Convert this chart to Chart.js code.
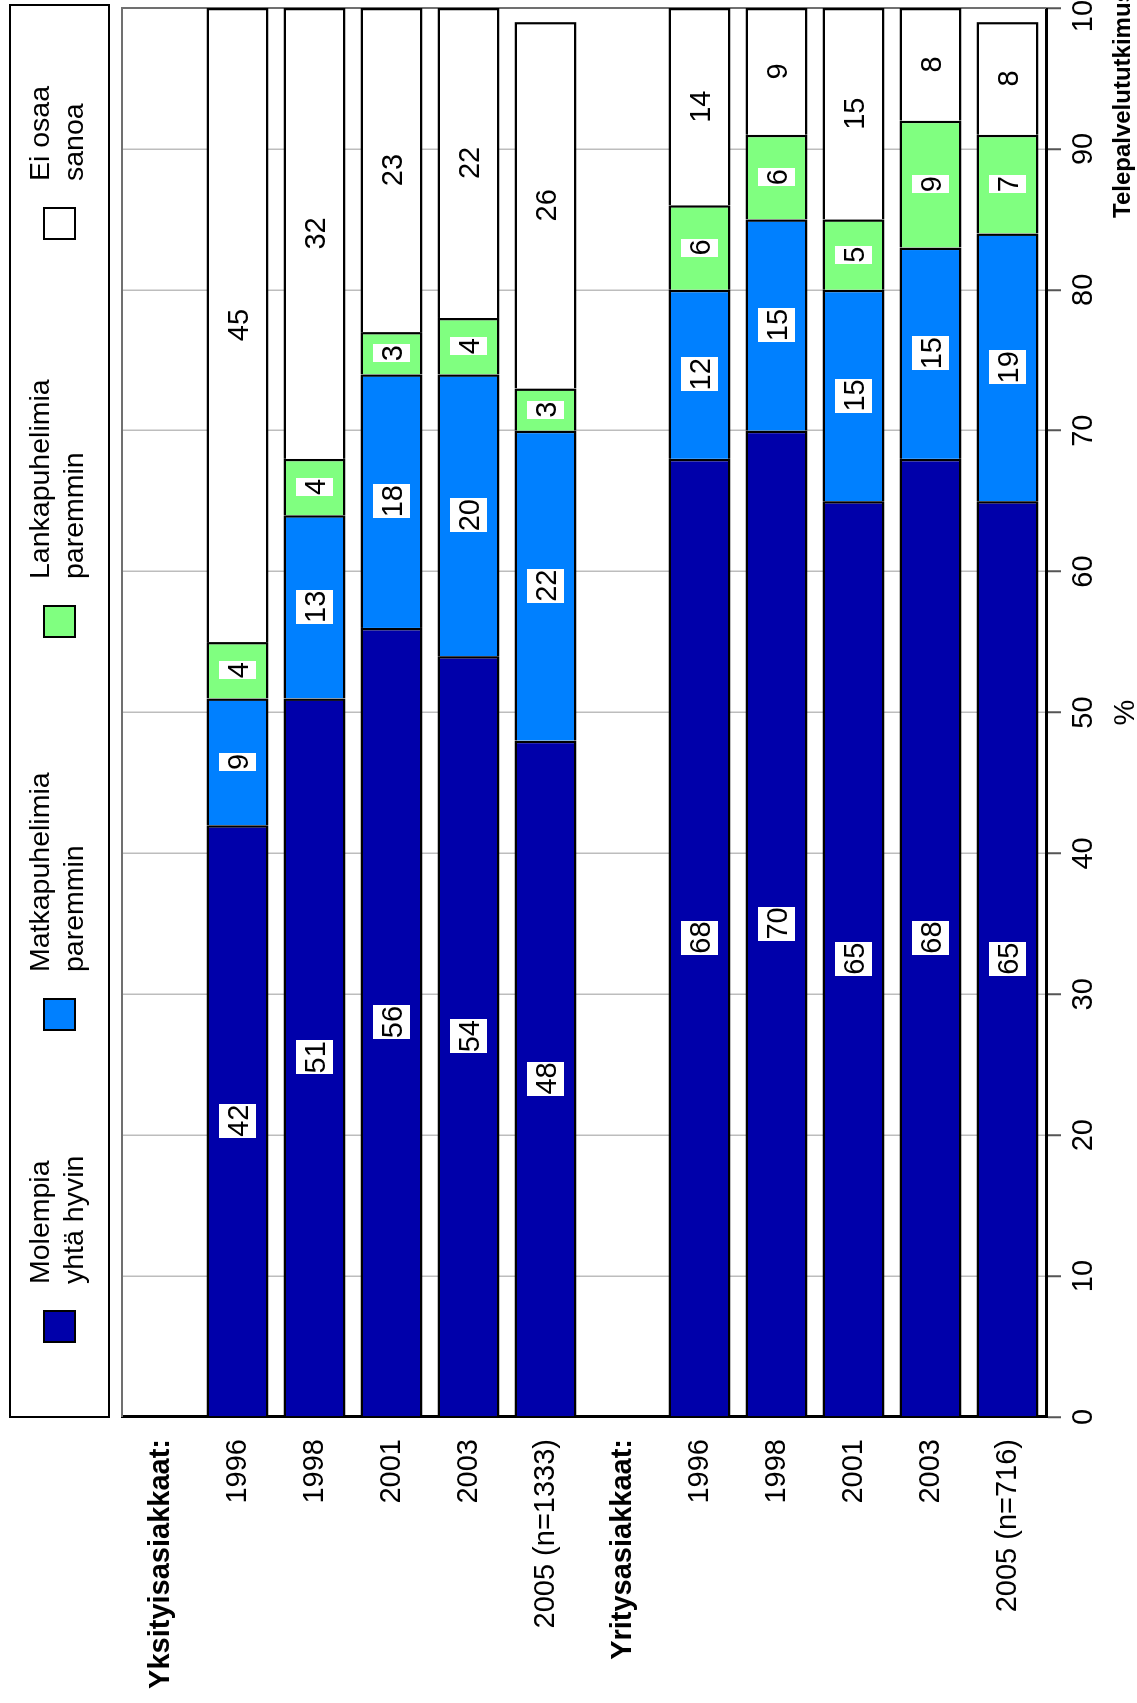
<!DOCTYPE html>
<html>
<head>
<meta charset="utf-8">
<title>Matka- ja lankapuhelimet</title>
<script src="https://cdn.jsdelivr.net/npm/chart.js@4.4.0/dist/chart.umd.min.js"></script>
<style>
  html, body { margin: 0; padding: 0; background: #fff; overflow: hidden; width: 1137px; height: 1703px; }
  /* the chart is laid out landscape and turned a quarter turn so its text reads upward */
  #wrap { position: absolute; left: 0; top: 0; width: 1760px; height: 1137px;
          transform-origin: 0 0; transform: translate(0, 1703px) rotate(-90deg); }
</style>
</head>
<body>
<div id="wrap"><canvas id="chart" width="1760" height="1137"></canvas></div>
<script>
// ---- data ----
const categories = ['Yksityisasiakkaat:', '1996', '1998', '2001', '2003', '2005 (n=1333)',
                    'Yritysasiakkaat:', '1996', '1998', '2001', '2003', '2005 (n=716)'];
const groupHeaderRows = [0, 6];
const seriesNames = [['Molempia', 'yhtä hyvin'], ['Matkapuhelimia', 'paremmin'],
                     ['Lankapuhelimia', 'paremmin'], ['Ei osaa', 'sanoa']];
const bothEqually    = [null, 42, 51, 56, 54, 48, null, 68, 70, 65, 68, 65];
const mobileBetter   = [null,  9, 13, 18, 20, 22, null, 12, 15, 15, 15, 19];
const landlineBetter = [null,  4,  4,  3,  4,  3, null,  6,  6,  5,  9,  7];
const cannotSay      = [null, 45, 32, 23, 22, 26, null, 14,  9, 15,  8,  8];
const valueMin = 0, valueMax = 100, valueStep = 10;
const axisTitle = '%';
const sourceText = 'Telepalvelututkimus';

// ---- styling ----
const FONT = '"Liberation Sans", Arial, Helvetica, sans-serif';
const colors = ['#0000AA', '#0080FF', '#80FF80', '#FFFFFF'];
const boxedLabels = [true, true, true, false];
const W = 1760, H = 1137;
const AREA = { left: 286, right: 1695, top: 122, bottom: 1046 };

const seriesValues = [bothEqually, mobileBetter, landlineBetter, cannotSay];
const datasets = seriesValues.map((vals, i) => ({
  label: seriesNames[i].join(' '),
  data: vals,
  backgroundColor: colors[i],
  borderColor: '#000',
  borderWidth: 2.5,
  borderSkipped: 'start',
  categoryPercentage: 1,
  barPercentage: 0.805
}));

// frame around the plotting area
const plotFrame = {
  id: 'plotFrame',
  beforeDatasetsDraw(chart) {
    const { ctx, chartArea: a } = chart;
    ctx.save();
    ctx.strokeStyle = '#707070';
    ctx.lineWidth = 2;
    ctx.beginPath();
    ctx.moveTo(a.left, a.top);
    ctx.lineTo(a.right, a.top);
    ctx.lineTo(a.right, a.bottom);
    ctx.stroke();
    ctx.restore();
  }
};

// value labels inside every segment
const segmentLabels = {
  id: 'segmentLabels',
  afterDatasetsDraw(chart) {
    const { ctx } = chart;
    ctx.save();
    ctx.font = '29px ' + FONT;
    ctx.textAlign = 'center';
    ctx.textBaseline = 'alphabetic';
    chart.data.datasets.forEach((ds, i) => {
      const meta = chart.getDatasetMeta(i);
      meta.data.forEach((bar, j) => {
        const v = ds.data[j];
        if (v === null || v === undefined) return;
        const c = bar.getCenterPoint();
        const txt = String(v);
        const w = ctx.measureText(txt).width;
        if (boxedLabels[i]) {
          ctx.fillStyle = '#fff';
          ctx.fillRect(Math.round(c.x - w / 2 - 1), Math.round(c.y - 18.5), Math.round(w + 2), 37);
        }
        ctx.fillStyle = '#000';
        ctx.fillText(txt, c.x, c.y + 10.5);
      });
    });
    ctx.restore();
  }
};

// boxed legend above the plot, two-line entries
const boxedLegend = {
  id: 'boxedLegend',
  afterDraw(chart) {
    const { ctx } = chart;
    const itemX = [361, 673, 1066, 1464];
    ctx.save();
    ctx.strokeStyle = '#000';
    ctx.lineWidth = 2;
    ctx.strokeRect(286, 10, 1412, 99);
    ctx.font = '28.5px ' + FONT;
    ctx.textAlign = 'left';
    ctx.textBaseline = 'alphabetic';
    chart.data.datasets.forEach((ds, i) => {
      const x = itemX[i];
      ctx.fillStyle = ds.backgroundColor;
      ctx.fillRect(x, 44, 31, 31);
      ctx.lineWidth = 2;
      ctx.strokeStyle = '#000';
      ctx.strokeRect(x, 44, 31, 31);
      ctx.fillStyle = '#000';
      seriesNames[i].forEach((line, k) => ctx.fillText(line, x + 58, 49 + k * 34));
    });
    ctx.restore();
  }
};

// survey source in the lower right corner
const sourceNote = {
  id: 'sourceNote',
  afterDraw(chart) {
    const { ctx } = chart;
    ctx.save();
    ctx.font = 'bold 24px ' + FONT;
    ctx.fillStyle = '#000';
    ctx.textAlign = 'left';
    ctx.textBaseline = 'alphabetic';
    ctx.fillText(sourceText, 1485, 1130);
    ctx.restore();
  }
};

new Chart(document.getElementById('chart'), {
  type: 'bar',
  data: { labels: categories, datasets },
  options: {
    indexAxis: 'y',
    responsive: false,
    animation: false,
    devicePixelRatio: 1,
    layout: { padding: { top: AREA.top, right: W - AREA.right, bottom: 0, left: 0 } },
    plugins: { legend: { display: false }, tooltip: { enabled: false } },
    scales: {
      x: {
        stacked: true,
        min: valueMin, max: valueMax,
        position: 'bottom',
        ticks: { stepSize: valueStep, color: '#000', padding: 6, maxRotation: 0, autoSkip: false,
                 font: { family: FONT, size: 29 } },
        grid: { color: '#bdbdbd', lineWidth: 1.5, tickLength: 15, tickColor: '#555', tickWidth: 2 },
        border: { color: '#000', width: 3 },
        title: { display: true, text: axisTitle, color: '#000', padding: { top: 0, bottom: -3 },
                 font: { family: FONT, size: 29, lineHeight: 1 } },
        afterFit(scale) { scale.height = H - AREA.bottom; }
      },
      y: {
        stacked: true,
        offset: true,
        ticks: {
          color: '#000', padding: 22, autoSkip: false,
          font: (c) => ({ family: FONT, size: 29, weight: groupHeaderRows.includes(c.index) ? 'bold' : 'normal' })
        },
        grid: { display: false, drawTicks: false },
        border: { color: '#000', width: 3 },
        afterFit(scale) { scale.width = AREA.left; }
      }
    }
  },
  plugins: [plotFrame, segmentLabels, boxedLegend, sourceNote]
});
</script>
</body>
</html>
